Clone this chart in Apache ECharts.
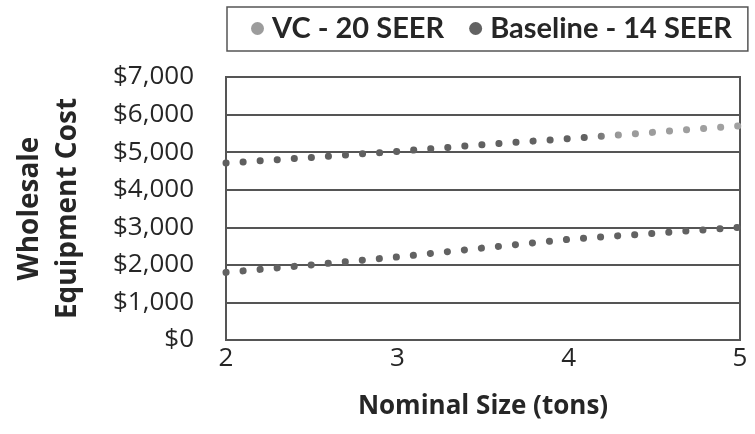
<!DOCTYPE html>
<html>
<head>
<meta charset="utf-8">
<script src="https://cdn.jsdelivr.net/npm/echarts@6/dist/echarts.min.js"></script>
<style>
  html, body { margin: 0; padding: 0; background: #fff; }
  #chart { width: 755px; height: 434px; }
</style>
</head>
<body>
<div id="chart"></div>
<script>
// Nominal size (tons) and wholesale equipment cost ($) per system type
const sizes = [2, 2.5, 3, 3.5, 4, 4.5, 5];
const vc20Seer = [4710, 4860, 5020, 5200, 5360, 5530, 5700];
const baseline14Seer = [1800, 2000, 2210, 2450, 2680, 2840, 3000];
const xTicks = [2, 3, 4, 5];
const seriesNames = ['VC - 20 SEER', 'Baseline - 14 SEER'];

const LEGEND_FONT = 'Lato, "Open Sans", sans-serif';
const FONT = '"Open Sans", Lato, sans-serif';
const TEXT = '#262626';
const GRID = '#555555';

const VC_COLOR = '#9c9c9c';
const BASE_COLOR = '#626262';

const pairs = (xs, ys) => xs.map((x, i) => [x, ys[i]]);

const chart = echarts.init(document.getElementById('chart'));

const dotted = (color) => ({
  color: color,
  width: 7,
  type: [0.1, 17],
  cap: 'round'
});

// upper series prints darker toward the small sizes, lighter at the large end
const vcLineColor = new echarts.graphic.LinearGradient(0, 0, 1, 0, [
  { offset: 0, color: '#5e5e5e' },
  { offset: 0.7, color: '#626262' },
  { offset: 0.76, color: '#9a9a9a' },
  { offset: 1, color: '#a2a2a2' }
]);

chart.setOption({
  animation: false,
  backgroundColor: '#fff',
  grid: {
    left: 226, right: 15, top: 77, bottom: 94,
    show: true, borderColor: GRID, borderWidth: 2
  },
  legend: {
    top: 7, left: 227,
    padding: [7, 16, 8, 24],
    borderColor: '#555', borderWidth: 1.5,
    itemWidth: 13, itemHeight: 13, itemGap: 25,
    icon: 'circle',
    data: [
      { name: seriesNames[0], itemStyle: { color: VC_COLOR } },
      { name: seriesNames[1], itemStyle: { color: BASE_COLOR } }
    ],
    textStyle: { fontFamily: LEGEND_FONT, fontWeight: 'bold', fontSize: 29, color: TEXT, padding: [0, 0, 0, 3] }
  },
  xAxis: {
    type: 'value',
    min: 2, max: 5, interval: 1,
    name: 'Nominal Size (tons)',
    nameLocation: 'middle',
    nameGap: 54,
    nameTextStyle: { fontFamily: FONT, fontWeight: 'bold', fontSize: 26, color: TEXT },
    axisLine: { show: false },
    axisTick: { show: false },
    splitLine: { show: false },
    axisLabel: {
      margin: 6, fontFamily: FONT, fontSize: 26, color: TEXT,
      formatter: (v) => xTicks.includes(v) ? String(v) : ''
    }
  },
  yAxis: {
    type: 'value',
    min: 0, max: 7000, interval: 1000,
    name: 'Wholesale\nEquipment Cost',
    nameLocation: 'middle',
    nameGap: 139,
    nameTextStyle: { fontFamily: FONT, fontWeight: 'bold', fontSize: 28, color: TEXT, lineHeight: 38 },
    axisLine: { show: false },
    axisTick: { show: false },
    splitLine: { lineStyle: { color: GRID, width: 2 } },
    axisLabel: {
      margin: 32, fontFamily: FONT, fontSize: 26, color: TEXT,
      formatter: (v) => '$' + v.toLocaleString('en-US')
    }
  },
  series: [
    {
      name: seriesNames[0],
      type: 'line',
      data: pairs(sizes, vc20Seer),
      symbol: 'none',
      color: VC_COLOR,
      lineStyle: dotted(vcLineColor)
    },
    {
      name: seriesNames[1],
      type: 'line',
      data: pairs(sizes, baseline14Seer),
      symbol: 'none',
      color: BASE_COLOR,
      lineStyle: dotted(BASE_COLOR)
    }
  ]
});
</script>
</body>
</html>
